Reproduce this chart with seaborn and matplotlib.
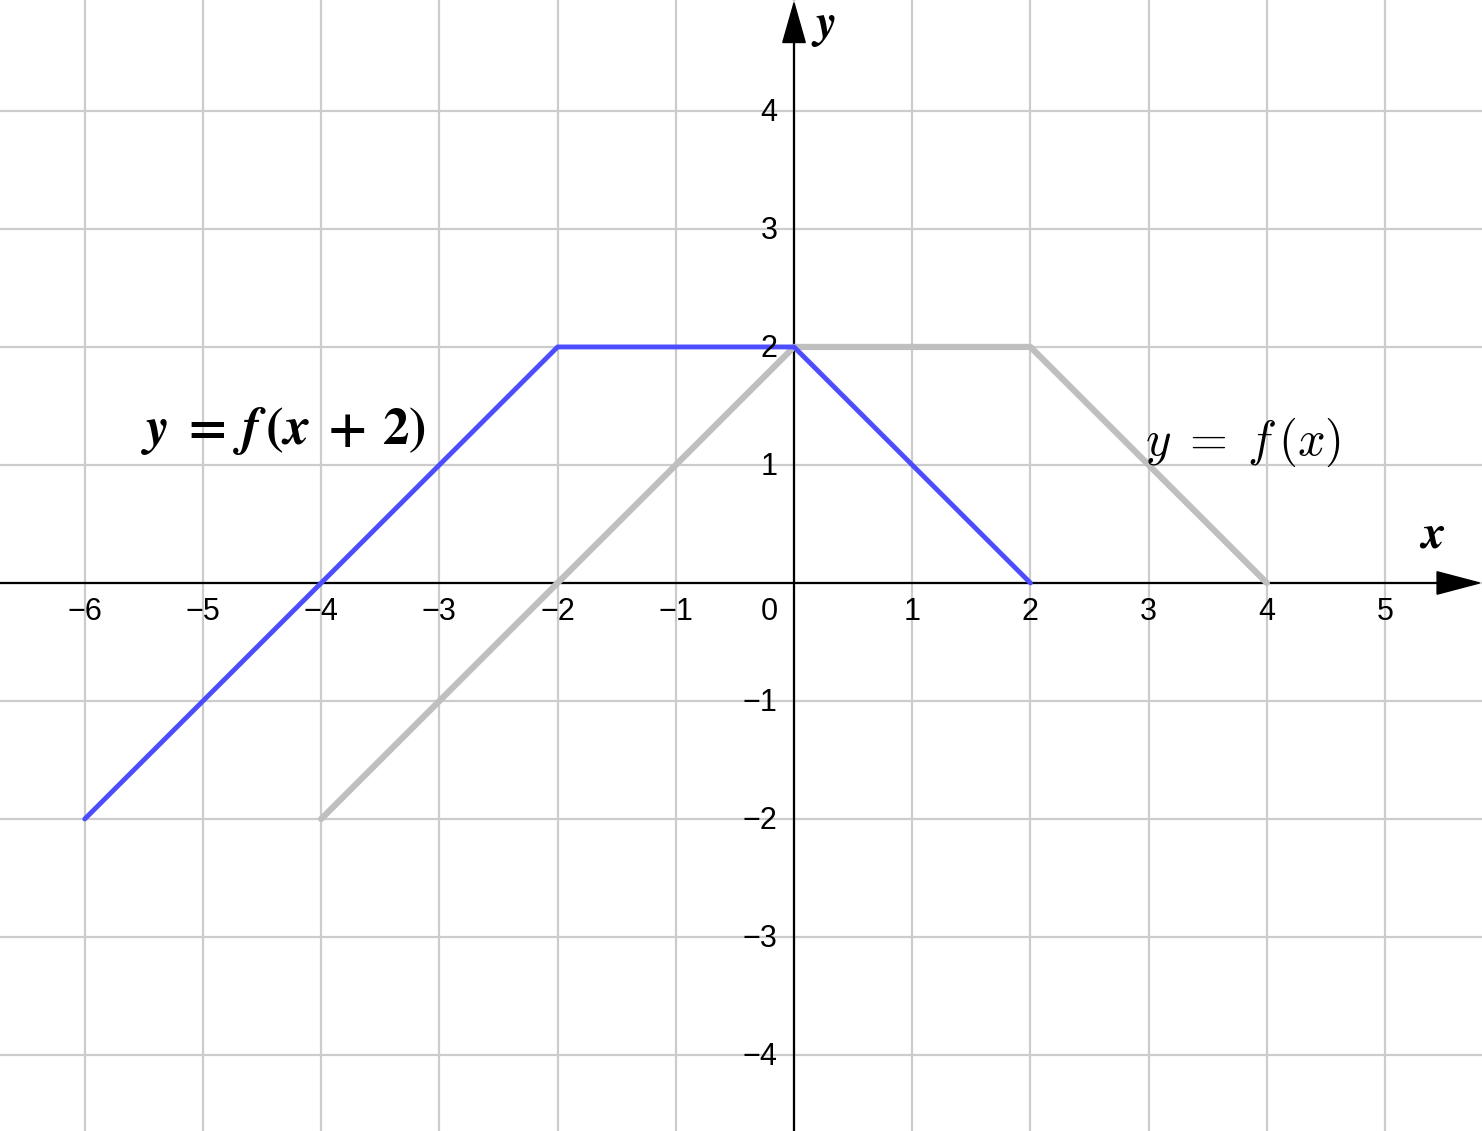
import matplotlib
matplotlib.use("Agg")
import matplotlib.pyplot as plt
import seaborn as sns
import pandas as pd
from matplotlib.patches import Polygon

# data
x_f = [-4, 0, 2, 4]
y_f = [-2, 2, 2, 0]
x_shift = [-6, -2, 0, 2]
y_shift = [-2, 2, 2, 0]
x_ticks = [-6, -5, -4, -3, -2, -1, 1, 2, 3, 4, 5]
y_ticks = [-4, -3, -2, -1, 1, 2, 3, 4]

sns.set_style("white")
plt.rcParams['font.family'] = ['Liberation Sans', 'DejaVu Sans']
plt.rcParams['mathtext.fontset'] = 'cm'

fig = plt.figure(figsize=(14.82, 11.31), dpi=100)
ax = fig.add_axes([0, 0, 1, 1])
xmin, xmax = -6.717, 5.82
ymin, ymax = -4.644, 4.94
ax.set_xlim(xmin, xmax)
ax.set_ylim(ymin, ymax)
for s in ax.spines.values():
    s.set_visible(False)

# grid
for gx in range(-6, 6):
    ax.axvline(gx, color='#cccccc', lw=1.6, zorder=0)
for gy in range(-4, 5):
    ax.axhline(gy, color='#cccccc', lw=1.6, zorder=0)
ax.set_xticks([]); ax.set_yticks([])

# axes
ax.plot([xmin, 5.45], [0, 0], color='black', lw=1.6, zorder=2)
ax.plot([0, 0], [ymin, 4.6], color='black', lw=1.6, zorder=2)
ax.add_patch(Polygon([[5.80, 0], [5.44, 0.095], [5.44, -0.095]], closed=True,
                     color='black', zorder=3))
ax.add_patch(Polygon([[0, 4.915], [-0.095, 4.58], [0.095, 4.58]], closed=True,
                     color='black', zorder=3))

df_f = pd.DataFrame({'x': x_f, 'y': y_f})
df_s = pd.DataFrame({'x': x_shift, 'y': y_shift})
sns.lineplot(data=df_f, x='x', y='y', sort=False, color='#bfbfbf', lw=4.5, ax=ax, zorder=4)
sns.lineplot(data=df_s, x='x', y='y', sort=False, color='#4d4dff', lw=3.5, ax=ax, zorder=5)
ax.set_xlabel(''); ax.set_ylabel('')

# tick labels
for t in x_ticks:
    lab = str(t).replace('-', '\u2212')
    ax.text(t, -0.25, lab, ha='center', va='center', fontsize=22, color='black', zorder=6)
ax.text(-0.21, -0.25, '0', ha='center', va='center', fontsize=22, color='black', zorder=6)
for t in y_ticks:
    lab = str(t).replace('-', '\u2212')
    ax.text(-0.14, t - 0.02, lab, ha='right', va='center', fontsize=22, color='black', zorder=6)

# labels
lab1 = r'$\boldsymbol{y\;=\;f\,(x\;+\;2)}$'
ax.text(-5.52, 1.29, lab1, ha='left', va='center', fontsize=38, color='black',
        math_fontfamily='stix', zorder=7)
lab2 = r'$y\;=\;f\,(x)$'
ax.text(3.80, 1.19, lab2, ha='center', va='center', fontsize=35, color='black', zorder=7)
ax.text(5.40, 0.40, r'$\boldsymbol{x}$', ha='center', va='center', fontsize=34, color='black', zorder=7)
ax.text(0.25, 4.71, r'$\boldsymbol{y}$', ha='center', va='center', fontsize=34, color='black', zorder=7)

fig.savefig('out.png', dpi=100)
